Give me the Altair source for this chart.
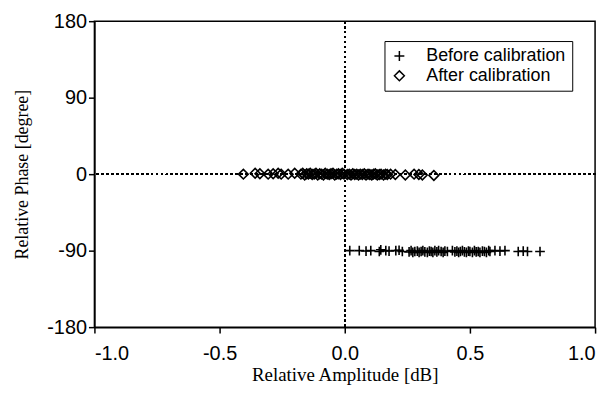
import altair as alt
import pandas as pd

# Before calibration (plus markers)
before_amp = [0.02, 0.058, 0.085, 0.104, 0.138, 0.144, 0.164, 0.177, 0.204, 0.217, 0.23,
              0.257, 0.265, 0.272, 0.28, 0.29, 0.297, 0.305, 0.312, 0.32, 0.33, 0.338,
              0.345, 0.352, 0.36, 0.368, 0.375, 0.385, 0.393, 0.40, 0.41,
              0.43, 0.44, 0.448, 0.455, 0.462, 0.47, 0.478, 0.486, 0.494, 0.50, 0.51,
              0.518, 0.525, 0.533, 0.54, 0.55, 0.558, 0.566, 0.575, 0.58,
              0.60, 0.62, 0.64, 0.693, 0.713, 0.73, 0.78]
before_phase = [-90, -90, -90.5, -90, -91, -89, -90, -90.5, -90, -89.5, -91,
                -91.5, -90, -92, -91, -90.5, -92, -91, -90, -91.5, -92, -90.5,
                -91, -92, -90, -91.5, -90, -91, -92, -90.5, -91,
                -90, -91.5, -90.5, -92, -91, -90, -91.5, -92, -90.5, -91, -92,
                -90, -91.5, -91, -92, -90.5, -91, -92, -90, -91,
                -90, -90.5, -90, -91, -90.5, -91, -91]

# After calibration (diamond markers)
after_amp = [-0.405, -0.358, -0.339, -0.306, -0.286, -0.266, -0.254, -0.226, -0.2,
             -0.175, -0.168, -0.16, -0.152, -0.145, -0.138, -0.13, -0.122, -0.115,
             -0.108, -0.1, -0.092, -0.085, -0.078, -0.07, -0.062, -0.055, -0.047,
             -0.04, -0.032, -0.025, -0.017, -0.01, -0.003,
             0.01, 0.018, 0.025, 0.032, 0.04, 0.048, 0.055, 0.062, 0.07, 0.078,
             0.085, 0.093, 0.1, 0.108, 0.115, 0.122, 0.13, 0.138, 0.145, 0.155,
             0.163, 0.17, 0.183, 0.202, 0.242, 0.277, 0.296, 0.31, 0.356]
after_phase = [0, 1, 0.5, 0, 0.5, 1, 0, 0, 1,
               0, 1, -1, 0.5, 0, 1, -0.5, 0, 1,
               -1, 0.5, 0, -1, 1, 0, -0.5, 0.5, 1,
               -1, 0, 0.5, -0.5, 1, 0,
               -0.5, 0, -1, 0.5, -0.5, 0, -1, 0, -0.5, 0.5,
               -1, 0, -0.5, -1, 0, 0.5, -1, -0.5, 0, -1,
               0, -0.5, 0, -0.5, -1, 0, -0.5, -1, -1.5]

series_names = ["Before calibration", "After calibration"]

df = pd.concat([
    pd.DataFrame({"amp": before_amp, "phase": before_phase, "series": series_names[0]}),
    pd.DataFrame({"amp": after_amp, "phase": after_phase, "series": series_names[1]}),
])

x_scale = alt.Scale(domain=[-1, 1], nice=False, zero=False)
y_scale = alt.Scale(domain=[-180, 180], nice=False, zero=False)

axis_common = dict(labelFont="Liberation Sans", labelFontSize=20,
                   titleFont="Liberation Serif", titleFontWeight="normal",
                   grid=False, domainColor="black", tickColor="black",
                   labelColor="black", titleColor="black",
                   domainWidth=1.5, tickWidth=1.5, tickSize=6)

points = alt.Chart(df).mark_point(filled=False, color="black", strokeWidth=1.6, opacity=1).encode(
    x=alt.X("amp:Q", scale=x_scale,
            axis=alt.Axis(title="Relative Amplitude [dB]", values=[-1, -0.5, 0, 0.5, 1],
                          labelExpr="replace(format(datum.value, '.1f'), '\u2212', '-')",
                          titleFontSize=19, labelPadding=11, titlePadding=2,
                          **axis_common)),
    y=alt.Y("phase:Q", scale=y_scale,
            axis=alt.Axis(title="Relative Phase [degree]", values=[-180, -90, 0, 90, 180],
                          labelExpr="replace(format(datum.value, 'd'), '\u2212', '-')",
                          titleFontSize=18, labelPadding=2, titlePadding=15,
                          **axis_common)),
    shape=alt.Shape("series:N",
                    scale=alt.Scale(domain=series_names,
                                    range=["M-1,0L1,0M0,-1L0,1", "diamond"]),
                    legend=alt.Legend(title=None, orient="none", legendX=292, legendY=20,
                                      labelFontSize=18, labelFont="Liberation Sans",
                                      labelColor="black", strokeColor="black", fillColor="white",
                                      padding=6, rowPadding=2, symbolSize=100,
                                      symbolStrokeColor="black", symbolFillColor="transparent",
                                      symbolStrokeWidth=1.5, labelOffset=18)),
    size=alt.value(95),
)

hline = alt.Chart(df).mark_rule(color="black", strokeDash=[2, 3], strokeWidth=1.4).encode(
    y=alt.datum(0)
)
vline = alt.Chart(df).mark_rule(color="black", strokeDash=[2, 3], strokeWidth=1.4).encode(
    x=alt.datum(0)
)

chart = alt.layer(hline, vline, points).properties(
    width=504, height=308,
    autosize=alt.AutoSizeParams(type="none"),
    padding={"left": 87, "top": 12, "right": 12, "bottom": 60},
    background="white",
).configure_view(stroke="black", strokeWidth=1.5)

chart.save("out.html", embed_options={"renderer": "svg", "actions": False})
